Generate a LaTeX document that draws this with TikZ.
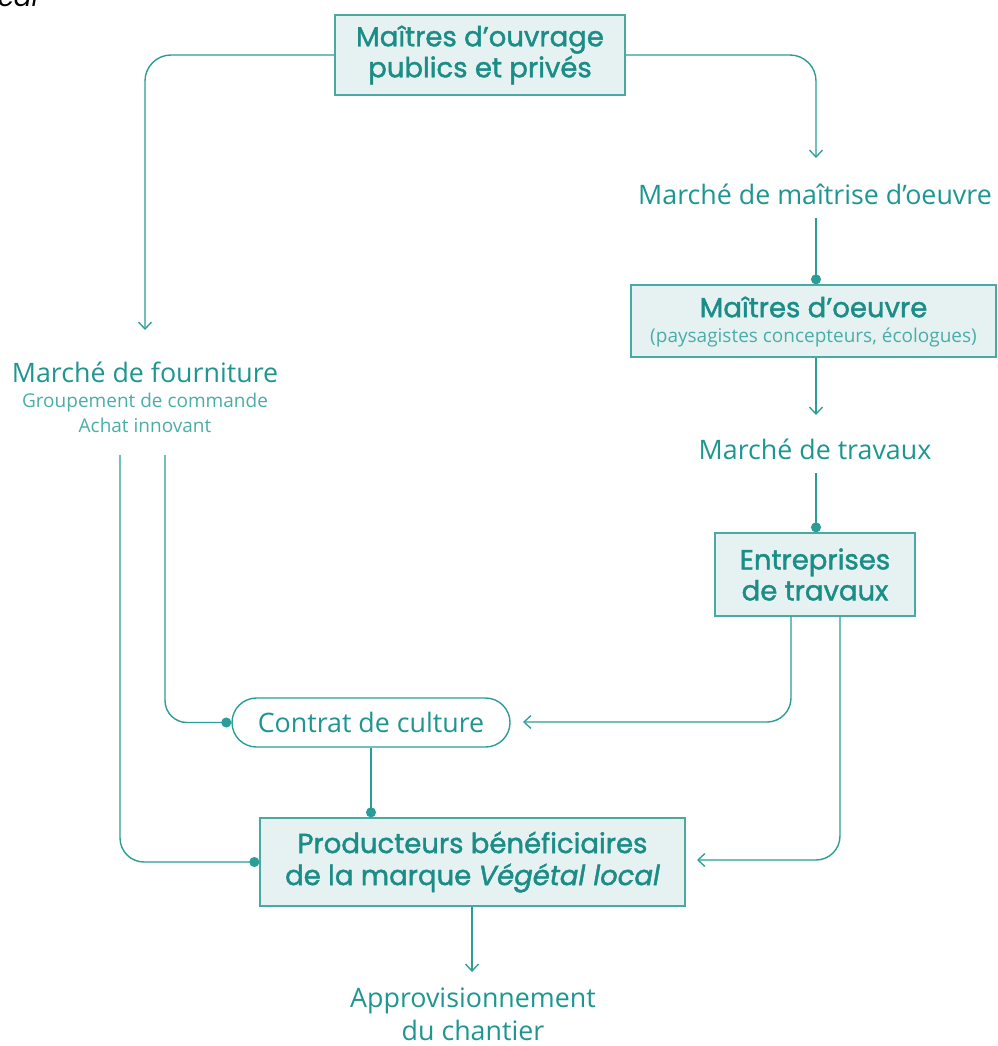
\documentclass[tikz,border=0pt]{standalone}
\usepackage{fontspec}
\setmainfont{Open Sans}
\newfontfamily\tf[FakeBold=1.5]{Poppins}
\newfontfamily\tfit[FakeBold=1.5]{Poppins}
\newfontfamily\calfont{Poppins}
\usetikzlibrary{arrows.meta}
\definecolor{teal1}{HTML}{1B8C86}
\definecolor{teal2}{HTML}{1E9690}
\definecolor{teal3}{HTML}{4AADA8}
\definecolor{linec}{HTML}{2A9D98}
\definecolor{boxfill}{HTML}{E6F2F2}
\definecolor{boxline}{HTML}{4AA9A5}
\tikzset{
  box/.style={draw=boxline, line width=1.3pt, fill=boxfill, align=center, inner sep=0pt, text=teal1},
  ttl/.style={font=\tf\fontsize{27.5}{31}\selectfont},
  lbl/.style={align=center, inner sep=0pt, text=teal2, font=\fontsize{26.8}{33}\selectfont},
  sublbl/.style={align=center, inner sep=0pt, text=teal3, font=\fontsize{19}{25}\selectfont},
  conn/.style={draw=linec, line width=1.4pt},
  arr/.style={conn, -{Straight Barb[length=7pt,width=13pt,line width=1.3pt]}},
  dotend/.style={conn, -{Circle[length=10pt,width=10pt]}}
}
\begin{document}
\begin{tikzpicture}[x=1pt,y=-1pt]
\useasboundingbox (0,0) rectangle (997,1046);
\node[anchor=base west, inner sep=0pt, font=\calfont\itshape\fontsize{26}{26}\selectfont] (cal) at (-2,7) {cal};

\node[box, ttl, minimum width=290, minimum height=80] (mo) at (480,55) {Maîtres d’ouvrage\\publics et privés};
\node[lbl] (mmo) at (815,194) {Marché de maîtrise d’oeuvre};
\node[box, minimum width=365, minimum height=72] (moe) at (813.5,321) {};
\node[inner sep=0pt, text=teal1, font=\tf\fontsize{27.5}{31}\selectfont] (moet) at (813.5,307) {Maîtres d’oeuvre};
\node[sublbl] (moes) at (813.5,338) {(paysagistes concepteurs, écologues)};
\node[lbl] (mt) at (815,449) {Marché de travaux};
\node[box, ttl, minimum width=200, minimum height=83] (et) at (815,574.5) {Entreprises\\de travaux};
\node[lbl] (mf) at (145,372) {Marché de fourniture};
\node[sublbl] (mfs) at (145,413) {Groupement de commande\\Achat innovant};
\node[draw=linec, line width=1.4pt, rounded corners=24.5pt, fill=white, minimum width=278, minimum height=49, inner sep=0pt, lbl] (cc) at (371,722.5) {Contrat de culture};
\node[box, minimum width=425, minimum height=88, text=teal1, font=\tf\fontsize{27.5}{32}\selectfont] (pr) at (472.5,862) {Producteurs bénéficiaires\\de la marque {\tfit\itshape Végétal local}};
\node[lbl] (ap) at (473,1014) {Approvisionnement\\du chantier};

\coordinate (a1) at (145,330);
\coordinate (a2) at (816,158);
\coordinate (a3) at (816,415);
\coordinate (a4) at (523,722);
\coordinate (a5) at (697,860);
\coordinate (a6) at (472,972);
\coordinate (s1) at (120,455);
\coordinate (s2) at (165,455);
\coordinate (s3) at (816,218);
\coordinate (s4) at (816,473);
\coordinate (s5) at (791,616);
\coordinate (s6) at (840,616);

\draw[arr, rounded corners=26pt] (mo.west) -| (a1);
\draw[arr, rounded corners=26pt] (mo.east) -| (a2);
\draw[dotend] (s3) -- (s3 |- moe.north);
\draw[arr] (s3 |- moe.south) -- (a3);
\draw[dotend] (s4) -- (s4 |- et.north);
\draw[arr, rounded corners=24pt] (s5) |- (a4);
\draw[arr, rounded corners=24pt] (s6) |- (a5);
\draw[dotend, rounded corners=24pt] (s1) |- (pr.west);
\draw[dotend, rounded corners=22pt] (s2) |- (cc.west);
\draw[dotend] (cc.south) -- (cc.south |- pr.north);
\draw[arr] (a6 |- pr.south) -- (a6);
\end{tikzpicture}
\end{document}
